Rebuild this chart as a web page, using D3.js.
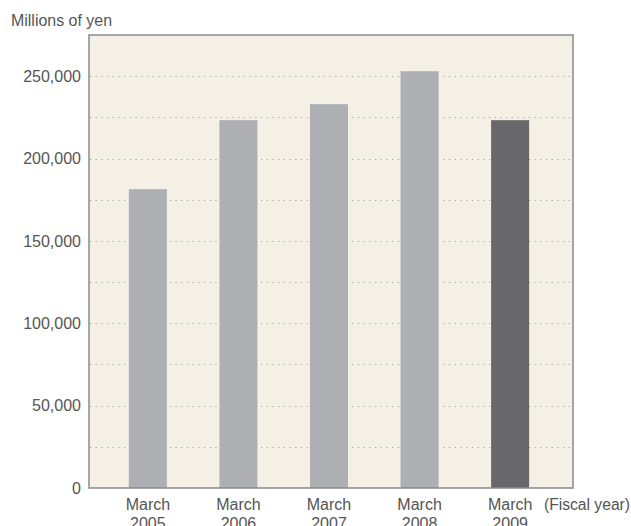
<!DOCTYPE html>
<html>
<head>
<meta charset="utf-8">
<script src="https://cdn.jsdelivr.net/npm/d3@7"></script>
<style>
  html, body { margin: 0; padding: 0; background: #fff; }
  svg { display: block; }
  text { font-family: "Liberation Sans", Arial, Helvetica, sans-serif; fill: #555; }
</style>
</head>
<body>
<svg id="chart" width="631" height="526"></svg>
<script>
// Net sales by fiscal year (millions of yen)
const categories = ["March 2005", "March 2006", "March 2007", "March 2008", "March 2009"];
const values = [181400, 223300, 233000, 253000, 223300];
const highlight = [false, false, false, false, true];
const tickValues = [0, 50000, 100000, 150000, 200000, 250000];
const gridValues = [25000, 50000, 75000, 100000, 125000, 150000, 175000, 200000, 225000, 250000];
const unitLabel = "Millions of yen";
const periodLabel = "(Fiscal year)";

const svg = d3.select("#chart");
const plot = { left: 89, right: 573, top: 35, bottom: 488 };

const y = d3.scaleLinear().domain([0, 275000]).range([plot.bottom, plot.top]);
const x = d3.scaleBand()
  .domain(categories)
  .range([89, 569])
  .paddingInner(0.58)
  .paddingOuter(0.44);

// plot background
svg.append("rect")
  .attr("x", plot.left).attr("y", plot.top)
  .attr("width", plot.right - plot.left).attr("height", plot.bottom - plot.top)
  .attr("fill", "#f4f0e5");

// dotted gridlines
svg.append("g").selectAll("line").data(gridValues).join("line")
  .attr("x1", plot.left + 1).attr("x2", plot.right - 1)
  .attr("y1", d => Math.round(y(d)) + 0.5).attr("y2", d => Math.round(y(d)) + 0.5)
  .attr("stroke", "#a9a59c")
  .attr("stroke-width", 1)
  .attr("stroke-dasharray", "1.2 4.5");

// bars
svg.append("g").selectAll("rect").data(values).join("rect")
  .attr("x", (d, i) => x(categories[i]))
  .attr("width", x.bandwidth())
  .attr("y", d => y(d))
  .attr("height", d => y(0) - y(d))
  .attr("fill", (d, i) => highlight[i] ? "#68686a" : "#aeafb3");

// frame
svg.append("rect")
  .attr("x", plot.left).attr("y", plot.top)
  .attr("width", plot.right - plot.left).attr("height", plot.bottom - plot.top)
  .attr("fill", "none")
  .attr("stroke", "#8a8a8a")
  .attr("stroke-width", 1.5);

// y axis labels
const yAxis = d3.axisLeft(y)
  .tickValues(tickValues)
  .tickFormat(d3.format(","))
  .tickSize(0)
  .tickPadding(8);
const gy = svg.append("g").attr("transform", `translate(${plot.left},0)`).call(yAxis);
gy.select(".domain").remove();
gy.selectAll("text")
  .attr("font-size", 16)
  .attr("font-family", "'Liberation Sans', Arial, sans-serif")
  .attr("fill", "#555");

// x axis labels (two lines)
const xAxis = d3.axisBottom(x).tickSize(0).tickFormat("");
const gx = svg.append("g").attr("transform", `translate(0,${plot.bottom})`).call(xAxis);
gx.select(".domain").remove();
gx.selectAll(".tick").each(function (d) {
  const parts = d.split(" ");
  const t = d3.select(this).append("text")
    .attr("text-anchor", "middle")
    .attr("font-size", 16)
    .attr("fill", "#555");
  t.append("tspan").attr("x", 0).attr("y", 22).text(parts[0]);
  t.append("tspan").attr("x", 0).attr("y", 41).text(parts[1]);
});

// unit and period labels
svg.append("text")
  .attr("x", 11).attr("y", 26)
  .attr("font-size", 16)
  .attr("textLength", 101)
  .attr("lengthAdjust", "spacingAndGlyphs")
  .text(unitLabel);

svg.append("text")
  .attr("x", 544).attr("y", 510)
  .attr("font-size", 16)
  .attr("textLength", 86)
  .attr("lengthAdjust", "spacingAndGlyphs")
  .text(periodLabel);
</script>
</body>
</html>
